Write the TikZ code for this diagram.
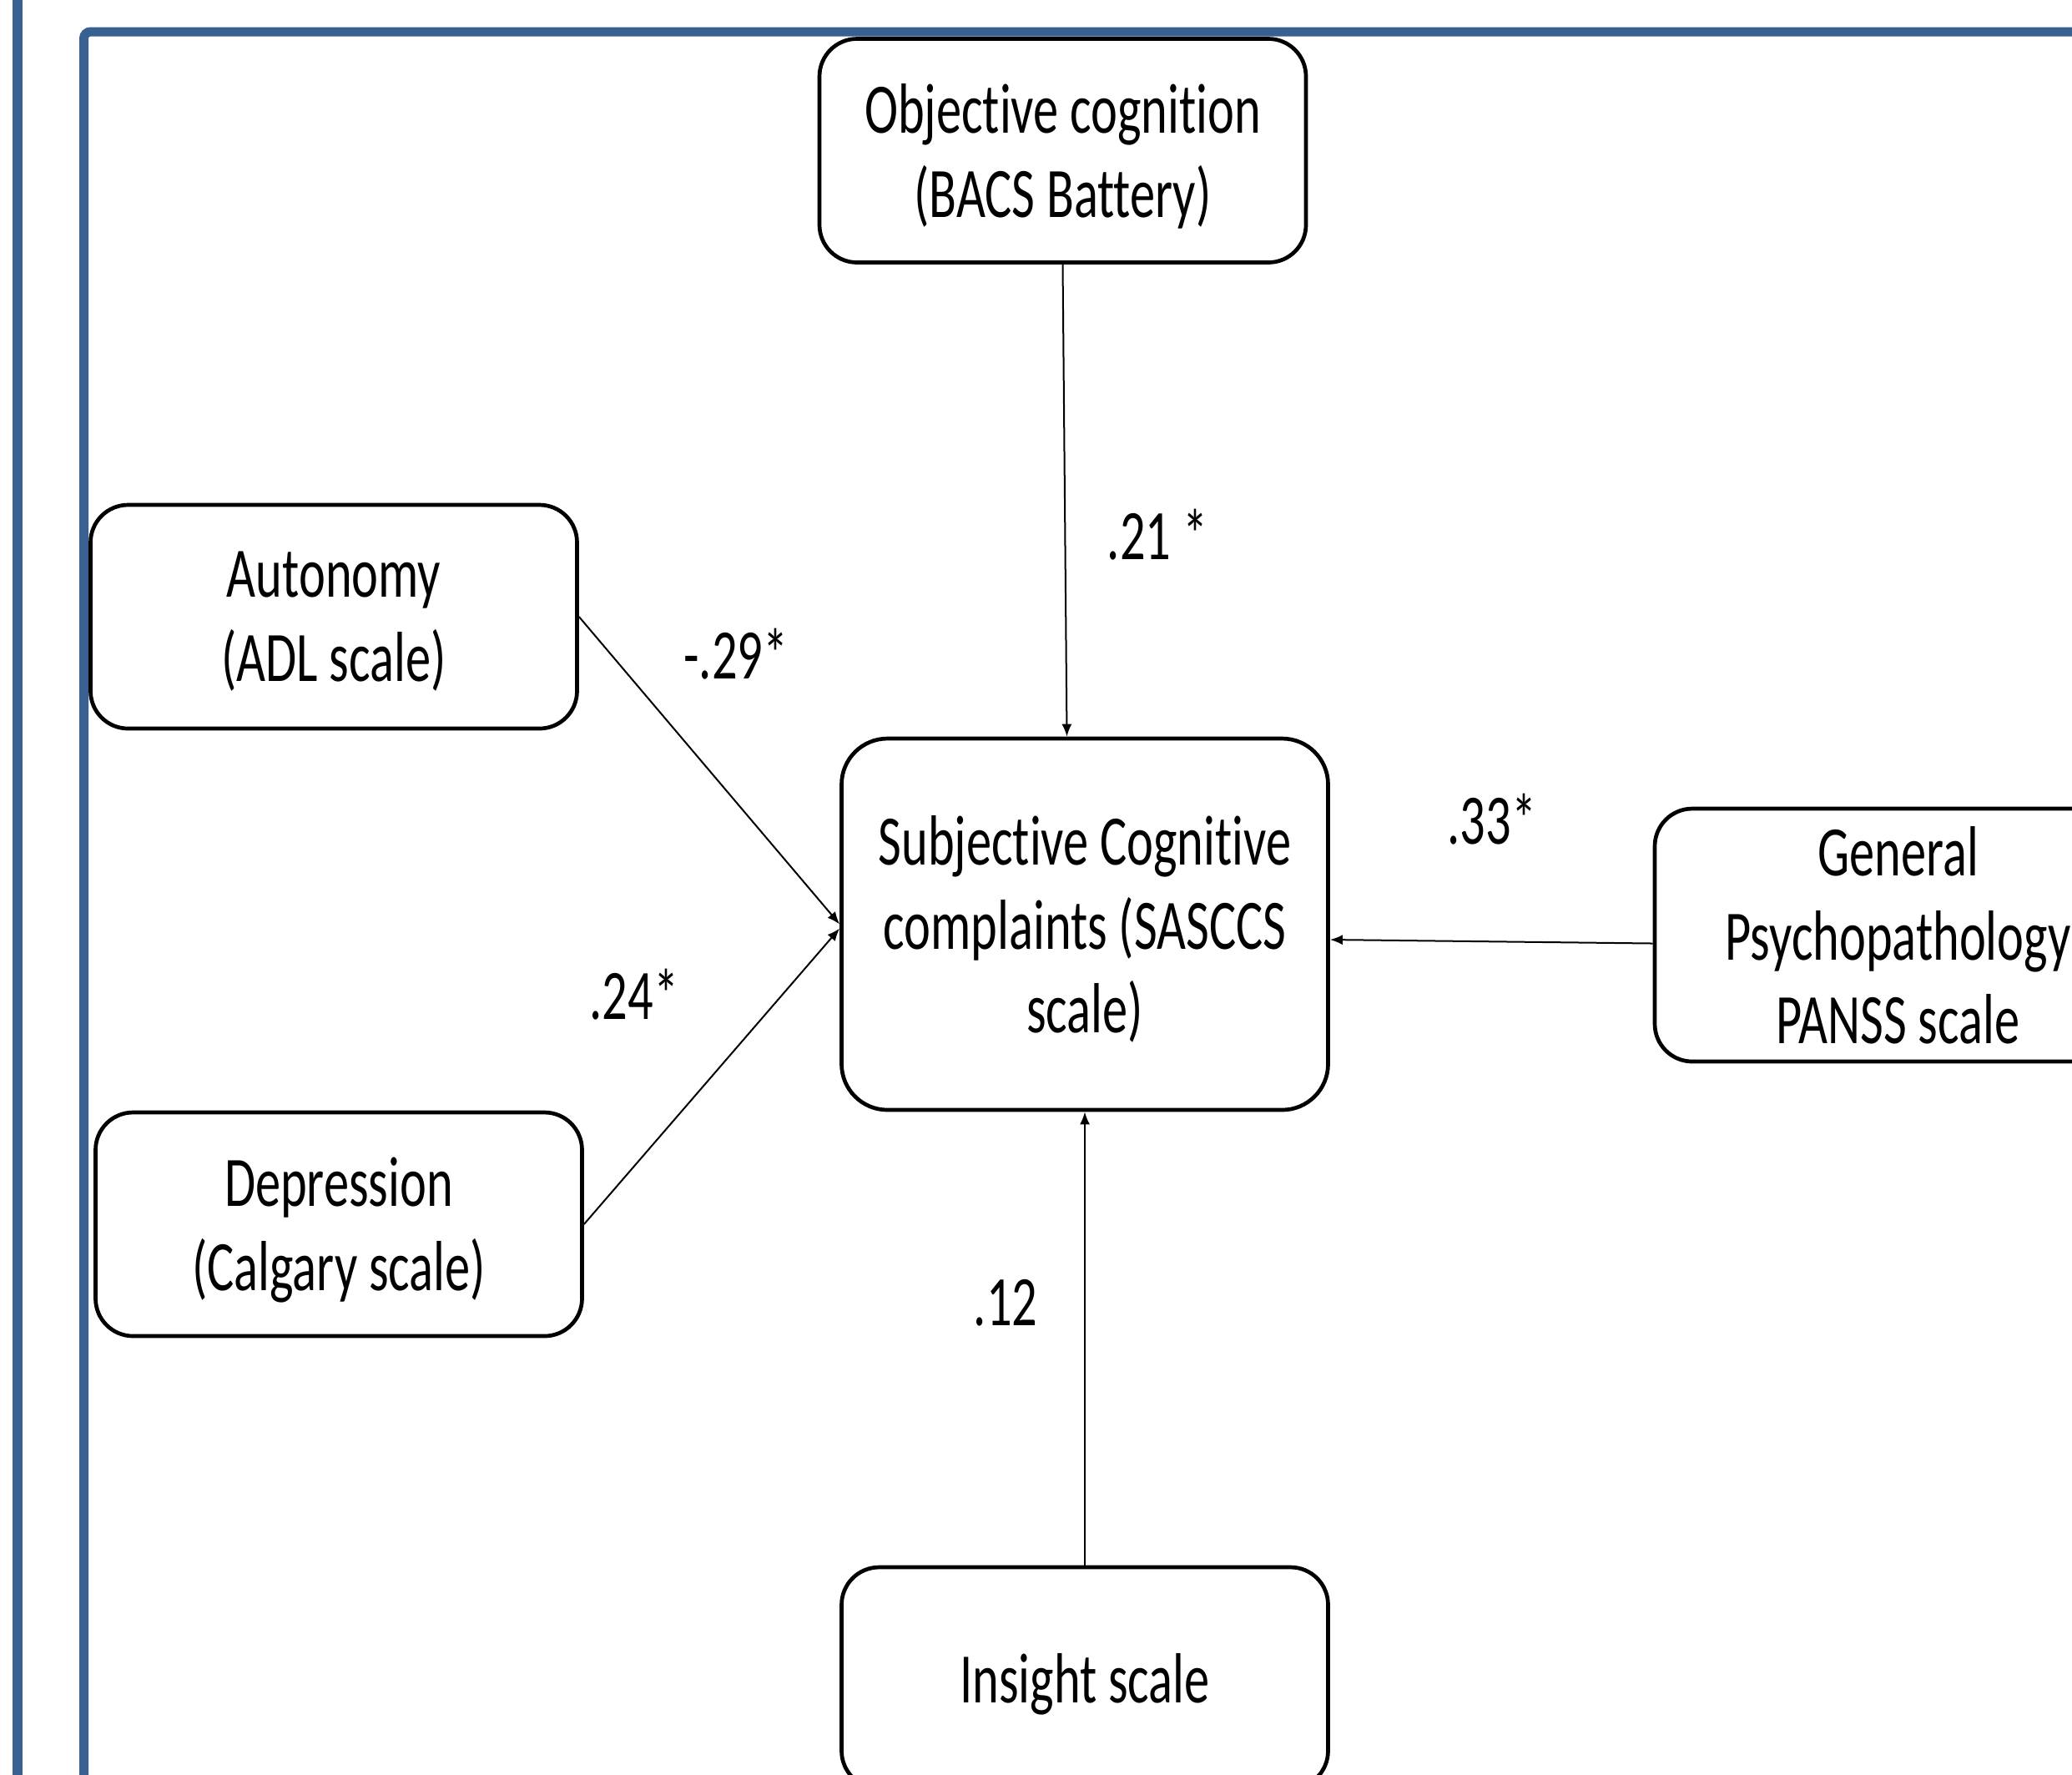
\documentclass[tikz,border=0pt]{standalone}
\usepackage{fontspec}
\setmainfont{Carlito}[FakeStretch=0.71, Ligatures={NoCommon}]
\usetikzlibrary{arrows.meta}
\definecolor{framebl}{RGB}{56,97,146}
\newcommand\boxfont{\fontsize{24.2pt}{28.7pt}\selectfont}

\begin{document}
\begin{tikzpicture}[
  measbox/.style={draw, line width=0.047cm, rounded corners=0.45cm, minimum width=5.83cm, minimum height=2.68cm, align=center, font=\boxfont, inner sep=0pt, text depth=0pt},
  coef/.style={font=\boxfont, inner sep=0pt},
  patharr/.style={-{Latex[length=0.15cm,width=0.12cm]}, line width=0.02cm}
]

% Page size and clipping
\useasboundingbox (0,0) rectangle (24.83,-21.26);
\clip (0,0) rectangle (24.83,-21.26);

% Blue frame lines
\draw[framebl, line width=0.12cm] (0.21, 0.5) -- (0.21, -22);
\draw[framebl, line width=0.11cm, rounded corners=0.08cm] (1.005, -0.38) rectangle (26.5, -22.5);

% Measures
\node[measbox] (obj) at (12.735, -1.805) {Objective cognition\\(BACS Battery)};
\node[measbox] (aut) at (4.00, -7.39) {Autonomy\\(ADL scale)};
\node[measbox, minimum height=4.45cm, rounded corners=0.55cm] (subj) at (13.00, -11.075) {Subjective Cognitive\\complaints (SASCCS\\scale)};
\node[measbox, minimum height=3.03cm] (gen) at (22.745, -11.205) {General\\Psychopathology\\PANSS scale};
\node[measbox] (dep) at (4.06, -14.67) {Depression\\(Calgary scale)};
\node[measbox, minimum height=2.65cm] (ins) at (13.00, -20.105) {Insight scale};

% Paths into subjective complaints
\draw[patharr] (obj.south) -- ([xshift=0.05cm]obj.south |- subj.north);
\draw[patharr] (aut.east) -- (subj.west);
\draw[patharr] (dep.east) -- ([yshift=-0.05cm]subj.west);
\draw[patharr] ([yshift=-0.1cm]gen.west) -- ([yshift=-0.185cm]subj.east);
\draw[patharr] (ins.north) -- (subj.south);

% Path coefficients
\node[coef] (cobj) at (13.87, -6.41) {.21 *};
\node[coef] (caut) at (8.82, -7.84) {-.29*};
\node[coef] (cdep) at (7.60, -11.92) {.24*};
\node[coef] (cgen) at (17.88, -9.82) {.33*};
\node[coef] (cins) at (12.05, -15.61) {.12};

\end{tikzpicture}
\end{document}
